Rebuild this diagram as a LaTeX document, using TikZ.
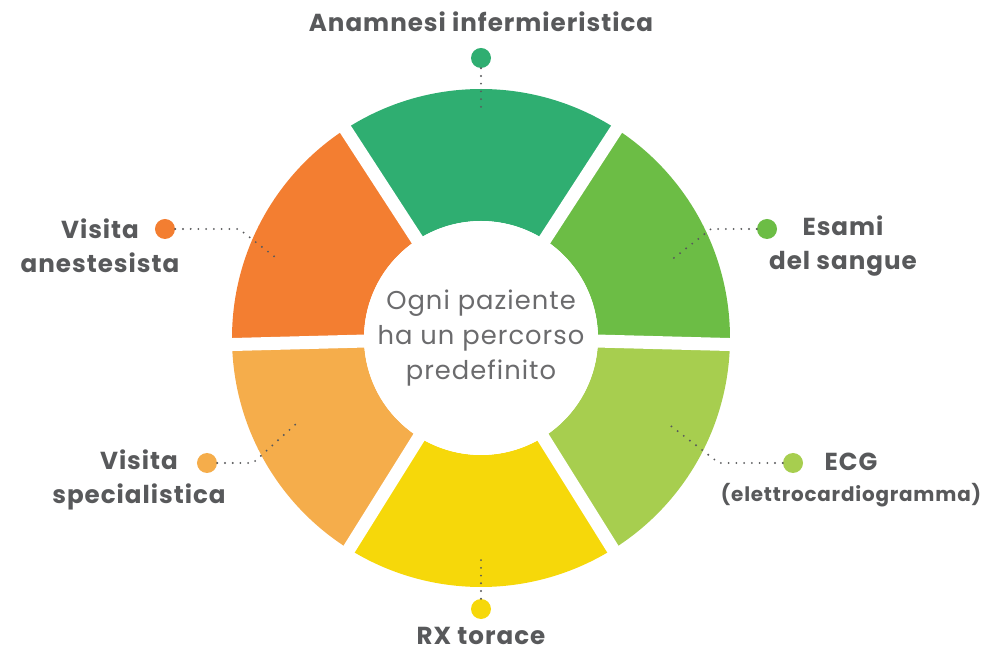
\documentclass[tikz,border=0pt]{standalone}
\usepackage{fontspec}
\setmainfont{Poppins}[LetterSpace=4]
\usetikzlibrary{positioning}
\definecolor{textgray}{HTML}{58595B}
\definecolor{softgray}{HTML}{6B6B6D}
\definecolor{cAnam}{HTML}{2FAE71}
\definecolor{cEsami}{HTML}{6CBD45}
\definecolor{cEcg}{HTML}{A7CE4F}
\definecolor{cRx}{HTML}{F6D80A}
\definecolor{cSpec}{HTML}{F5AD4B}
\definecolor{cAnest}{HTML}{F37E31}
\begin{document}
\begin{tikzpicture}[x=0.03cm, y=0.03cm,
  dot node/.style={circle, inner sep=0pt, minimum size=0.6cm},
  leader/.style={draw=textgray, line width=1.8pt, dash pattern=on 0pt off 6.6pt, line cap=round},
  main label/.style={font=\fontsize{21}{29}\selectfont\bfseries, text=textgray, align=center, inner sep=0pt}]
\useasboundingbox (-481,-315) rectangle (504,338);
% ring
\foreach \s/\e/\c in {57/123/cAnam, -1.5/57/cEsami, -58/-1.5/cEcg, -122/-58/cRx, -178.5/-122/cSpec, 123/181.5/cAnest}
  \fill[\c] (\s:249) arc[start angle=\s, end angle=\e, radius=249]
    -- (\e:117) arc[start angle=\e, end angle=\s, radius=117] -- cycle;
\foreach \a in {57,123,181.5,238,302,358.5}
  \draw[white, line width=0.39cm] (0,0) -- (\a:262);
\fill[white] (0,0) circle[radius=117];
\node[font=\fontsize{22}{30}\selectfont, text=softgray, align=center] (centre) at (0,0) {Ogni paziente\\ha un percorso\\predefinito};
\begin{scope}[every node/.style={dot node}]
\node [fill=cAnam](d1) at (0,280) {};
\node [fill=cEsami](d2) at (286,109) {};
\node [fill=cEcg](d3) at (312,-125) {};
\node [fill=cRx](d4) at (0,-271) {};
\node [fill=cSpec](d5) at (-274,-125) {};
\node [fill=cAnest](d6) at (-316,109) {};
\end{scope}
\coordinate (e1) at (0,224);
\coordinate (k2) at (230,109);
\coordinate (e2) at (189,77);
\coordinate (k3) at (238,-125);
\coordinate (e3) at (186,-85);
\coordinate (e4) at (0,-217);
\coordinate (k5) at (-228,-125);
\coordinate (e5) at (-184,-85);
\coordinate (k6) at (-242,109);
\coordinate (e6) at (-201,77);
\path [leader]
    (d1) -- (e1)
    (d2) -- (k2) -- (e2)
    (d3) -- (k3) -- (e3)
    (d4) -- (e4)
    (d5) -- (k5) -- (e5)
    (d6) -- (k6) -- (e6);
\node [main label](t1) at (0,316) {Anamnesi infermieristica};
\node [main label](t2) at (362,92) {Esami\\del sangue};
\node [main label](t3) at (370,-142) {ECG\\[-2pt]{\fontsize{17}{20}\selectfont(elettrocardiogramma)}};
\node [main label](t4) at (0,-298) {RX torace};
\node [main label](t5) at (-342,-142) {Visita\\specialistica};
\node [main label](t6) at (-381,92) {Visita\\anestesista};
\end{tikzpicture}
\end{document}
